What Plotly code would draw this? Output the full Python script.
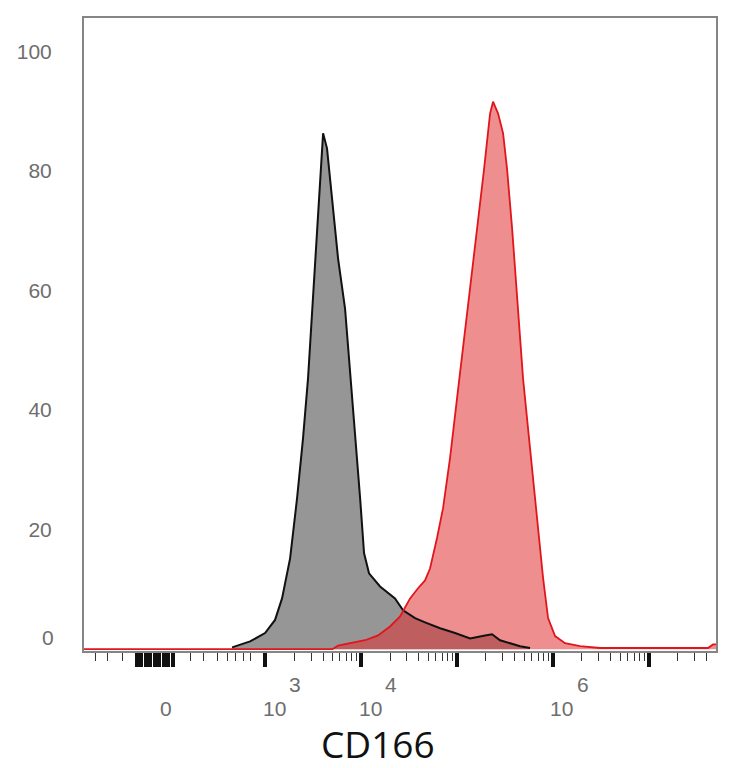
import math
import plotly.graph_objects as go

# Display scale: x values are positions on the biexponential axis in "decade" units
# (10^3 -> 3, 10^4 -> 4, ...). y values: % of max.
GRAY_X = [2.654, 2.842, 2.998, 3.102, 3.175, 3.259, 3.332, 3.394, 3.446, 3.498, 3.540,
          3.582, 3.603, 3.644, 3.697, 3.759, 3.832, 3.884, 3.936, 3.989, 4.030, 4.082,
          4.197, 4.353, 4.437, 4.562, 4.666, 4.823, 4.979, 5.136, 5.292, 5.365, 5.448,
          5.553, 5.657, 5.761]
GRAY_Y = [0.3, 1.3, 2.7, 4.9, 8.5, 15.2, 25.3, 35.3, 45.3, 58.7, 70.4,
          82.1, 86.3, 83.8, 75.4, 65.4, 57.0, 47.0, 37.0, 25.3, 16.1, 12.7,
          10.5, 8.5, 6.5, 5.2, 4.5, 3.5, 2.7, 1.8, 2.3, 2.5, 1.5,
          1.0, 0.5, 0.2]

RED_X = [1.11, 3.70, 3.759, 3.884, 4.041, 4.176, 4.301, 4.406, 4.510, 4.593, 4.666, 4.718,
         4.791, 4.854, 4.927, 5.000, 5.063, 5.136, 5.209, 5.282, 5.344, 5.375, 5.428,
         5.480, 5.521, 5.574, 5.626, 5.688, 5.761, 5.834, 5.897, 5.949, 6.022, 6.126,
         6.283, 6.491, 7.617, 7.669, 7.70]
RED_Y = [0.0, 0.0, 0.6, 1.0, 1.5, 2.3, 3.8, 5.5, 8.5, 10.2, 11.5, 13.5,
         18.6, 23.6, 32.0, 42.0, 50.3, 60.4, 70.4, 80.4, 89.6, 91.6, 89.6,
         86.3, 80.4, 70.4, 58.7, 45.3, 33.6, 21.9, 11.9, 5.2, 2.2, 1.0,
         0.5, 0.2, 0.2, 0.8, 0.8]

Y_TICKS = [20, 40, 60, 80, 100]
X_LABEL_POS = [3, 4, 6]
X_LABEL_EXP = ["3", "4", "6"]
ZERO_POS = 1.97
X_TITLE = "CD166"

# axis decoration (tick marks)
MAJOR_TICKS = [3, 4, 5, 6, 7] + [1.66 + 0.047 * i for i in range(9)]
MINOR_BELOW = [1.225, 1.35, 1.507, 2.216, 2.352, 2.498, 2.602, 2.685, 2.769, 2.842]
MINOR_TICKS = MINOR_BELOW + [n + math.log10(k) for n in range(3, 8) for k in range(2, 10)
                             if n + math.log10(k) < 7.68]

LABEL_FONT = dict(family="Liberation Sans, Arial", size=21, color="#6e6e6e")

fig = go.Figure()
fig.add_trace(go.Scatter(x=GRAY_X, y=GRAY_Y, mode="lines", fill="tozeroy",
                         fillcolor="rgb(150,150,150)", line=dict(color="rgba(0,0,0,0)", width=0),
                         hoverinfo="skip", showlegend=False))
fig.add_trace(go.Scatter(x=RED_X, y=RED_Y, mode="lines", fill="tozeroy",
                         fillcolor="rgba(225,50,50,0.55)", line=dict(color="rgba(0,0,0,0)", width=0),
                         hoverinfo="skip", showlegend=False))
fig.add_trace(go.Scatter(x=GRAY_X, y=GRAY_Y, mode="lines",
                         line=dict(color="#111111", width=2), showlegend=False))
fig.add_trace(go.Scatter(x=RED_X, y=RED_Y, mode="lines",
                         line=dict(color="#e0161c", width=1.8), showlegend=False))

annotations = []
for pos, e in zip(X_LABEL_POS, X_LABEL_EXP):
    annotations.append(dict(x=pos, xref="x", y=0, yref="paper", text="10", showarrow=False,
                            xanchor="center", yanchor="middle", xshift=9, yshift=-57,
                            font=LABEL_FONT))
    annotations.append(dict(x=pos, xref="x", y=0, yref="paper", text=e, showarrow=False,
                            xanchor="center", yanchor="middle", xshift=30, yshift=-33,
                            font=LABEL_FONT))
annotations.append(dict(x=ZERO_POS, xref="x", y=0, yref="paper", text="0", showarrow=False,
                        xanchor="center", yanchor="middle", yshift=-57, font=LABEL_FONT))
annotations.append(dict(x=0, xref="paper", y=0, yref="y", text="0", showarrow=False,
                        xanchor="right", yanchor="middle", xshift=-28, yshift=12,
                        font=LABEL_FONT))
annotations.append(dict(x=0.5, xref="paper", y=0, yref="paper", text=X_TITLE, showarrow=False,
                        xanchor="center", yanchor="middle", xshift=-22, yshift=-92,
                        font=dict(family="Open Sans", size=37, color="#111111")))

fig.update_layout(
    width=734, height=768, autosize=False,
    margin=dict(l=84, r=18, t=18, b=117),
    plot_bgcolor="white", paper_bgcolor="white",
    annotations=annotations,
    xaxis=dict(range=[1.11, 7.70], showgrid=False, zeroline=False,
               showline=True, linecolor="#858585", linewidth=2, mirror=True,
               tickmode="array", tickvals=MAJOR_TICKS, ticktext=[""] * len(MAJOR_TICKS),
               ticks="outside", ticklen=14, tickwidth=3.5, tickcolor="#111111",
               minor=dict(tickmode="array", tickvals=MINOR_TICKS, ticks="outside",
                          ticklen=8, tickwidth=1.3, tickcolor="#333333")),
    yaxis=dict(range=[-0.3, 105.6], showgrid=False, zeroline=False,
               showline=True, linecolor="#858585", linewidth=2, mirror=True,
               tickmode="array", tickvals=Y_TICKS,
               ticks="outside", ticklen=26, tickcolor="rgba(0,0,0,0)",
               tickfont=LABEL_FONT),
)

fig.write_html("out.html")
